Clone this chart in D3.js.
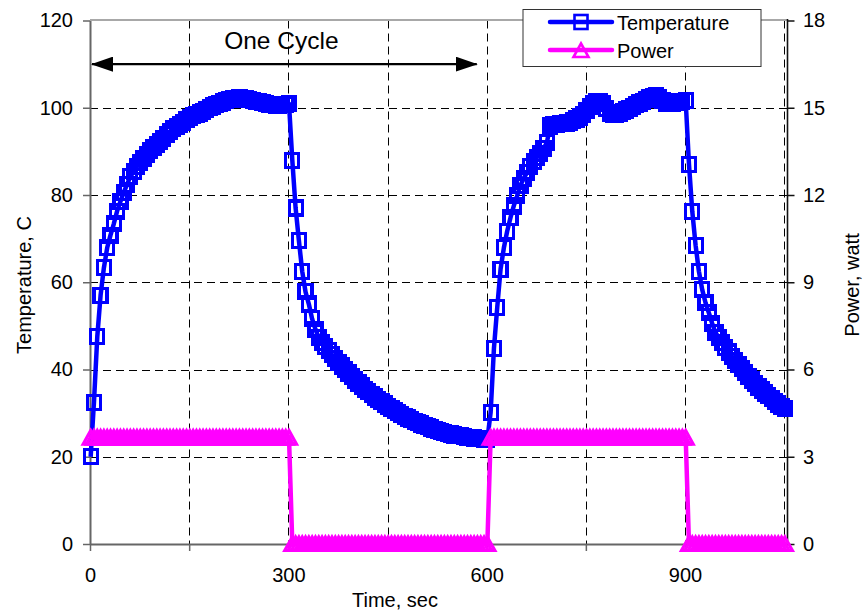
<!DOCTYPE html>
<html>
<head>
<meta charset="utf-8">
<script src="https://cdn.jsdelivr.net/npm/d3@7"></script>
<style>
  body { margin: 0; background: #fff; }
  svg { display: block; font-family: "Liberation Sans", Arial, sans-serif; }
</style>
</head>
<body>
<svg width="864" height="611"></svg>
<script>

//	logged samples, one every 5 sec
const timeSec = [
  1, 6, 11, 16, 21, 26, 31, 36, 41, 46, 51, 56, 61, 66, 71, 76, 81, 86, 91, 96,
  101, 106, 111, 116, 121, 126, 131, 136, 141, 146, 151, 156, 161, 166, 171, 176, 181, 186, 191, 196,
  201, 206, 211, 216, 221, 226, 231, 236, 241, 246, 251, 256, 261, 266, 271, 276, 281, 286, 291, 296,
  301, 306, 311, 316, 321, 326, 331, 336, 341, 346, 351, 356, 361, 366, 371, 376, 381, 386, 391, 396,
  401, 406, 411, 416, 421, 426, 431, 436, 441, 446, 451, 456, 461, 466, 471, 476, 481, 486, 491, 496,
  501, 506, 511, 516, 521, 526, 531, 536, 541, 546, 551, 556, 561, 566, 571, 576, 581, 586, 591, 596,
  601, 606, 611, 616, 621, 626, 631, 636, 641, 646, 651, 656, 661, 666, 671, 676, 681, 686, 691, 696,
  701, 706, 711, 716, 721, 726, 731, 736, 741, 746, 751, 756, 761, 766, 771, 776, 781, 786, 791, 796,
  801, 806, 811, 816, 821, 826, 831, 836, 841, 846, 851, 856, 861, 866, 871, 876, 881, 886, 891, 896,
  901, 906, 911, 916, 921, 926, 931, 936, 941, 946, 951, 956, 961, 966, 971, 976, 981, 986, 991, 996,
  1001, 1006, 1011, 1016, 1021, 1026, 1031, 1036, 1041, 1046, 1051
];

// temperature, C  (heater on 1..301 s)
const tempHeat1 = [
  20, 32.5, 47.5, 57, 63.3, 67.9, 70.8, 73.4, 76.3, 78.5,
  80.6, 82.4, 84.2, 85.4, 86.5, 87.5, 88.4, 89.3, 90.2, 90.9,
  91.6, 92.3, 93.0, 93.8, 94.6, 95.2, 95.7, 96.2, 96.7, 97.3,
  97.8, 98.2, 98.5, 98.8, 99.1, 99.6, 100.1, 100.4, 100.7, 101.0,
  101.3, 101.6, 101.9, 102.1, 102.2, 102.3, 102.2, 102.0, 101.8, 101.6,
  101.5, 101.4, 101.2, 101.0, 100.8, 100.7, 100.6, 100.6, 100.7, 100.8,
  100.9
];
// heater off 306..601 s
const tempCool1 = [
  88.0, 77.0, 69.5, 62.5, 57.8, 55.0, 51.6, 49.2, 47.3, 46.2,
  45.2, 44.3, 43.4, 42.5, 41.6, 40.8, 40.0, 39.2, 38.4, 37.6,
  36.9, 36.2, 35.5, 34.9, 34.3, 33.7, 33.1, 32.6, 32.1, 31.6,
  31.1, 30.6, 30.1, 29.7, 29.3, 28.9, 28.5, 28.1, 27.8, 27.5,
  27.2, 26.9, 26.6, 26.3, 26.0, 25.8, 25.6, 25.4, 25.2, 25.0,
  24.9, 24.8, 24.6, 24.5, 24.4, 24.3, 24.2, 24.1, 24.0, 23.9
];
// heater on 606..901 s
const tempHeat2 = [
  30.2, 44.9, 54.3, 63.0, 67.9, 71.7, 74.8, 77.5, 79.8, 82.2,
  83.8, 85.2, 86.5, 87.6, 88.6, 89.6, 90.6, 92.0, 95.8, 96.1,
  96.2, 96.3, 96.4, 96.5, 96.7, 97.0, 97.4, 97.9, 98.5, 99.3,
  100.2, 100.9, 101.3, 101.4, 101.0, 99.8, 98.8, 98.4, 98.4, 98.7,
  99.1, 99.5, 99.9, 100.3, 100.7, 101.1, 101.5, 101.9, 102.3, 102.6,
  102.7, 102.4, 101.6, 101.0, 100.9, 101.0, 101.2, 101.4, 101.5, 101.6
];
// heater off 906..1051 s
const tempCool2 = [
  87.0, 76.2, 68.5, 62.5, 58.3, 55.3, 53.0, 50.6, 48.5, 47.3,
  46.2, 45.1, 44.0, 43.0, 42.0, 41.1, 40.2, 39.3, 38.4, 37.6,
  36.8, 36.0, 35.3, 34.6, 34.0, 33.3, 32.7, 32.1, 31.6, 31.1
];

// heater power, watt
const powerWatt = [
  3.66, 3.66, 3.66, 3.66, 3.66, 3.66, 3.66, 3.66, 3.66, 3.66,
  3.66, 3.66, 3.66, 3.66, 3.66, 3.66, 3.66, 3.66, 3.66, 3.66,
  3.66, 3.66, 3.66, 3.66, 3.66, 3.66, 3.66, 3.66, 3.66, 3.66,
  3.66, 3.66, 3.66, 3.66, 3.66, 3.66, 3.66, 3.66, 3.66, 3.66,
  3.66, 3.66, 3.66, 3.66, 3.66, 3.66, 3.66, 3.66, 3.66, 3.66,
  3.66, 3.66, 3.66, 3.66, 3.66, 3.66, 3.66, 3.66, 3.66, 3.66,
  3.66,
  0, 0, 0, 0, 0, 0, 0, 0, 0, 0,
  0, 0, 0, 0, 0, 0, 0, 0, 0, 0,
  0, 0, 0, 0, 0, 0, 0, 0, 0, 0,
  0, 0, 0, 0, 0, 0, 0, 0, 0, 0,
  0, 0, 0, 0, 0, 0, 0, 0, 0, 0,
  0, 0, 0, 0, 0, 0, 0, 0, 0, 0,
  3.66, 3.66, 3.66, 3.66, 3.66, 3.66, 3.66, 3.66, 3.66, 3.66,
  3.66, 3.66, 3.66, 3.66, 3.66, 3.66, 3.66, 3.66, 3.66, 3.66,
  3.66, 3.66, 3.66, 3.66, 3.66, 3.66, 3.66, 3.66, 3.66, 3.66,
  3.66, 3.66, 3.66, 3.66, 3.66, 3.66, 3.66, 3.66, 3.66, 3.66,
  3.66, 3.66, 3.66, 3.66, 3.66, 3.66, 3.66, 3.66, 3.66, 3.66,
  3.66, 3.66, 3.66, 3.66, 3.66, 3.66, 3.66, 3.66, 3.66, 3.66,
  0, 0, 0, 0, 0, 0, 0, 0, 0, 0,
  0, 0, 0, 0, 0, 0, 0, 0, 0, 0,
  0, 0, 0, 0, 0, 0, 0, 0, 0, 0
];

const timeTicks = [0, 150, 300, 450, 600, 750, 900, 1050];
const timeLabels = [0, 300, 600, 900];
const tempTicks = [0, 20, 40, 60, 80, 100, 120];
const powerTicks = [0, 3, 6, 9, 12, 15, 18];
const seriesNames = ["Temperature", "Power"];
const cycleSpan = [0, 585];   // "One Cycle" arrow, sec

// one row per sample
const temperature = tempHeat1.concat(tempCool1, tempHeat2, tempCool2);
const rows = timeSec.map((t, i) => ({ t: t, temp: temperature[i], power: powerWatt[i] }));

const svg = d3.select("svg"),
  plotLeft = 90, plotRight = 787.5, plotTop = 20.5, plotBottom = 544;

const x = d3.scaleLinear().domain([0, 1055]).range([plotLeft, plotRight]);
const y = d3.scaleLinear().domain([0, 120]).range([plotBottom, plotTop]);
const y2 = d3.scaleLinear().domain([0, 18]).range([plotBottom, plotTop]);

const blue = "#0000ff", pink = "#ff00ff";

svg.append("rect").attr("width", 864).attr("height", 611).attr("fill", "white");

// dashed grid
const grid = svg.append("g")
  .attr("stroke", "#000")
  .attr("stroke-width", 1)
  .attr("stroke-dasharray", "8,5");
grid.selectAll("line.h")
  .data(tempTicks.slice(1, -1))
  .enter().append("line")
    .attr("x1", plotLeft).attr("x2", plotRight)
    .attr("y1", d => Math.round(y(d)) + 0.5).attr("y2", d => Math.round(y(d)) + 0.5);
grid.selectAll("line.v")
  .data(timeTicks.slice(1))
  .enter().append("line")
    .attr("x1", d => Math.round(x(d)) + 0.5).attr("x2", d => Math.round(x(d)) + 0.5)
    .attr("y1", plotTop).attr("y2", plotBottom);

// frame
svg.append("line").attr("x1", plotLeft).attr("x2", plotRight).attr("y1", plotTop - 0.5).attr("y2", plotTop - 0.5)
  .attr("stroke", "#a8a8a8").attr("stroke-width", 2);
svg.append("line").attr("x1", plotRight).attr("x2", plotRight).attr("y1", plotTop - 1.5).attr("y2", plotBottom)
  .attr("stroke", "#111").attr("stroke-width", 1.6);

// axes
function styleAxis(g, col) {
  g.select(".domain").attr("stroke", col).attr("stroke-width", 2);
  g.selectAll(".tick line").attr("stroke", col).attr("stroke-width", 1.5);
  g.selectAll(".tick text").attr("fill", "#000").style("font-size", "20px")
    .style("font-family", "'Liberation Sans', Arial, sans-serif");
}

const xAxis = svg.append("g")
  .attr("transform", "translate(0," + plotBottom + ")")
  .call(d3.axisBottom(x).tickValues(timeTicks)
    .tickFormat(d => timeLabels.indexOf(d) >= 0 ? d : "")
    .tickSize(7).tickSizeOuter(0).tickPadding(17));
styleAxis(xAxis, "#666");

const yAxis = svg.append("g")
  .attr("transform", "translate(" + plotLeft + ",0)")
  .call(d3.axisLeft(y).tickValues(tempTicks).tickSize(7).tickSizeOuter(0).tickPadding(10));
styleAxis(yAxis, "#666");

const y2Axis = svg.append("g")
  .attr("transform", "translate(" + plotRight + ",0)")
  .call(d3.axisRight(y2).tickValues(powerTicks).tickSize(7).tickSizeOuter(0).tickPadding(8.5));
styleAxis(y2Axis, "#111");
y2Axis.select(".domain").attr("stroke", "none");

// axis titles
svg.append("text")
  .attr("x", 395).attr("y", 607)
  .attr("text-anchor", "middle")
  .style("font-size", "20px")
  .text("Time, sec");
svg.append("text")
  .attr("transform", "translate(31,285) rotate(-90)")
  .attr("text-anchor", "middle")
  .style("font-size", "20px")
  .text("Temperature, C");
svg.append("text")
  .attr("transform", "translate(859,285) rotate(-90)")
  .attr("text-anchor", "middle")
  .style("font-size", "20px")
  .text("Power, watt");

// temperature series
const tempLine = d3.line().x(d => x(d.t)).y(d => y(d.temp));
svg.append("path")
  .datum(rows)
  .attr("d", tempLine)
  .attr("fill", "none")
  .attr("stroke", blue)
  .attr("stroke-width", 4.5)
  .attr("stroke-linejoin", "round");

const sq = 13;
svg.append("g")
  .attr("fill", "none")
  .attr("stroke", blue)
  .attr("stroke-width", 3.2)
  .attr("shape-rendering", "crispEdges")
  .selectAll("rect")
  .data(rows)
  .enter().append("rect")
    .attr("x", d => x(d.t) - sq / 2)
    .attr("y", d => y(d.temp) - sq / 2 - 0.5)
    .attr("width", sq)
    .attr("height", sq + 1);

// power series
const tri = "M0,-7 L7.5,6.5 L-7.5,6.5 Z";
const powerLine = d3.line().x(d => x(d.t)).y(d => y2(d.power));
svg.append("path")
  .datum(rows)
  .attr("d", powerLine)
  .attr("fill", "none")
  .attr("stroke", pink)
  .attr("stroke-width", 4.5)
  .attr("stroke-linejoin", "round");

svg.append("g")
  .attr("fill", "none")
  .attr("stroke", pink)
  .attr("stroke-width", 3.2)
  .selectAll("path")
  .data(rows)
  .enter().append("path")
    .attr("d", tri)
    .attr("transform", d => "translate(" + x(d.t) + "," + y2(d.power) + ")");

// one cycle annotation
svg.append("defs").append("marker")
    .attr("id", "head")
    .attr("viewBox", "0 0 22 15")
    .attr("refX", 21).attr("refY", 7.5)
    .attr("markerUnits", "userSpaceOnUse")
    .attr("markerWidth", 22).attr("markerHeight", 15)
    .attr("orient", "auto-start-reverse")
  .append("path")
    .attr("d", "M0,0 L22,7.5 L0,15 Z")
    .attr("fill", "#000");

svg.append("line")
  .attr("x1", x(cycleSpan[0]) + 2).attr("x2", x(cycleSpan[1]))
  .attr("y1", y(110)).attr("y2", y(110))
  .attr("stroke", "#000").attr("stroke-width", 2.2)
  .attr("marker-start", "url(#head)")
  .attr("marker-end", "url(#head)");

svg.append("text")
  .attr("x", (x(cycleSpan[0]) + x(cycleSpan[1])) / 2 - 2)
  .attr("y", 49)
  .attr("text-anchor", "middle")
  .style("font-size", "24.5px")
  .text("One Cycle");

// legend
const legend = svg.append("g").attr("transform", "translate(523,9.5)");
legend.append("rect")
  .attr("width", 238).attr("height", 57)
  .attr("fill", "white").attr("stroke", "#333").attr("stroke-width", 1);

const legendRows = legend.selectAll("g")
  .data(seriesNames)
  .enter().append("g")
    .attr("transform", (d, i) => "translate(0," + (12.5 + i * 28) + ")");
legendRows.append("line")
  .attr("x1", 27).attr("x2", 89)
  .attr("stroke", (d, i) => i ? pink : blue)
  .attr("stroke-width", 4.5)
  .attr("stroke-linecap", "round");
legendRows.filter((d, i) => i === 0).append("rect")
  .attr("x", 58 - sq / 2).attr("y", -sq / 2 - 0.5)
  .attr("width", sq).attr("height", sq + 1)
  .attr("fill", "none").attr("stroke", blue).attr("stroke-width", 2.6);
legendRows.filter((d, i) => i === 1).append("path")
  .attr("d", tri)
  .attr("transform", "translate(58,0.5)")
  .attr("fill", "none").attr("stroke", pink).attr("stroke-width", 2.6);
legendRows.append("text")
  .attr("x", 94).attr("y", 7.5)
  .style("font-size", "20px")
  .text(d => d);

</script>
</body>
</html>
